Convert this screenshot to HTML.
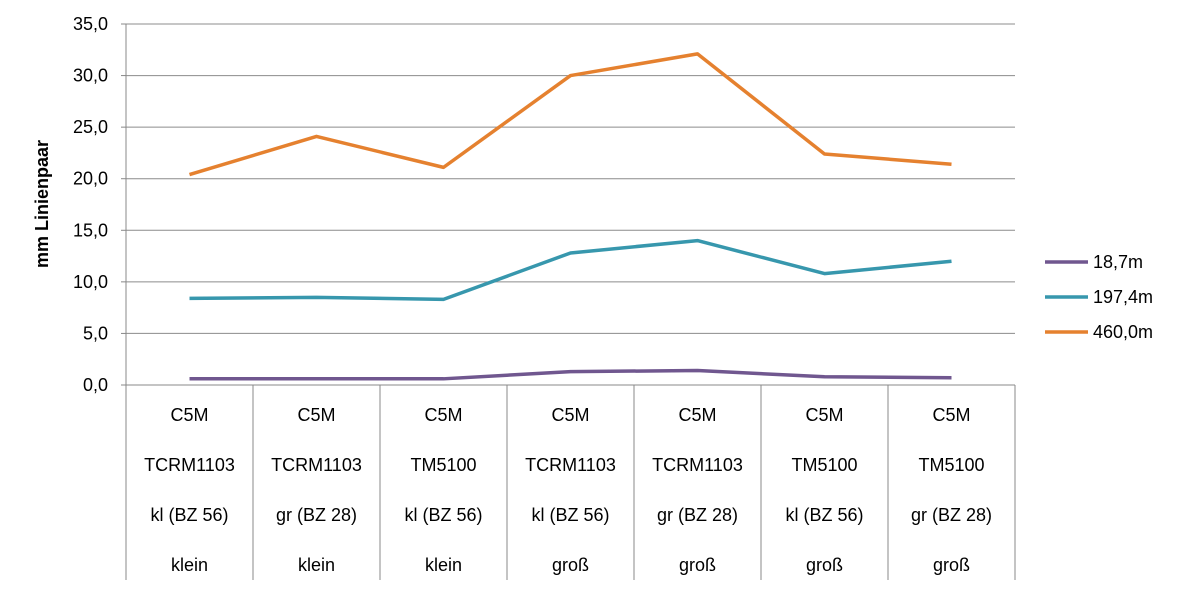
<!DOCTYPE html>
<html><head><meta charset="utf-8"><style>
body{margin:0;background:#fff;}
svg{display:block;font-family:"Liberation Sans",sans-serif;}
</style></head><body>
<svg id="c" width="1184" height="593"></svg>
<script>
const categories=[["C5M","TCRM1103","kl (BZ 56)","klein"],["C5M","TCRM1103","gr (BZ 28)","klein"],["C5M","TM5100","kl (BZ 56)","klein"],["C5M","TCRM1103","kl (BZ 56)","groß"],["C5M","TCRM1103","gr (BZ 28)","groß"],["C5M","TM5100","kl (BZ 56)","groß"],["C5M","TM5100","gr (BZ 28)","groß"]];
const seriesNames=["18,7m","197,4m","460,0m"];
const s187=[0.6,0.6,0.6,1.3,1.4,0.8,0.7];
const s1974=[8.4,8.5,8.3,12.8,14.0,10.8,12.0];
const s460=[20.4,24.1,21.1,30.0,32.1,22.4,21.4];
const yTicks=[0,5,10,15,20,25,30,35];
const colors=["#70578f","#3797ad","#e5812f"];
const svg=document.getElementById('c');
const NS="http://www.w3.org/2000/svg";
const L=126,R=1015,T=24,B=385,ymax=35;
const y=v=>B-(v/ymax)*(B-T);
const cw=(R-L)/categories.length;
const x=i=>L+cw*(i+0.5);
function mk(t,a,p){const e=document.createElementNS(NS,t);for(const k in a)e.setAttribute(k,a[k]);(p||svg).appendChild(e);return e;}
yTicks.forEach(v=>{
 const g=mk('line',{x1:L,x2:R,y1:y(v),y2:y(v),stroke:v===0?'#888':'#8c8c8c','stroke-width':1});
 
 
 const tk=mk('line',{x1:L-5,x2:L,y1:y(v),y2:y(v),stroke:'#888'});
 
 
 const t=mk('text',{x:L-18,y:y(v)+6,'text-anchor':'end','font-size':18});
 t.textContent=v.toFixed(1).replace('.',',');
 
 
});
const ax=mk('line',{x1:L,x2:L,y1:T,y2:580,stroke:'#888'});


for(let i=1;i<=categories.length;i++){
 const l=mk('line',{x1:L+cw*i,x2:L+cw*i,y1:B,y2:580,stroke:'#888'});
 
 
}
categories.forEach((c,i)=>{
 c.forEach((s,j)=>{
  const t=mk('text',{x:x(i),y:421+j*50,'text-anchor':'middle','font-size':18});
  t.textContent=s;
  
  
 });
});
const yt=mk('text',{x:0,y:0,transform:'translate(48,204) rotate(-90)','text-anchor':'middle','font-size':18,'font-weight':'bold'});
yt.textContent="mm Linienpaar";


[s187,s1974,s460].forEach((d,k)=>{
 const p=mk('polyline',{points:d.map((v,i)=>x(i)+','+y(v)).join(' '),fill:'none',stroke:colors[k],'stroke-width':3.5,'stroke-linejoin':'round'});
 
 
 const ly=262+k*35;
 const ll=mk('line',{x1:1045,x2:1088,y1:ly,y2:ly,stroke:colors[k],'stroke-width':3.5});
 
 
 const lt=mk('text',{x:1093,y:ly+6,'font-size':18});
 lt.textContent=seriesNames[k];
 
 
});
</script>
</body></html>
